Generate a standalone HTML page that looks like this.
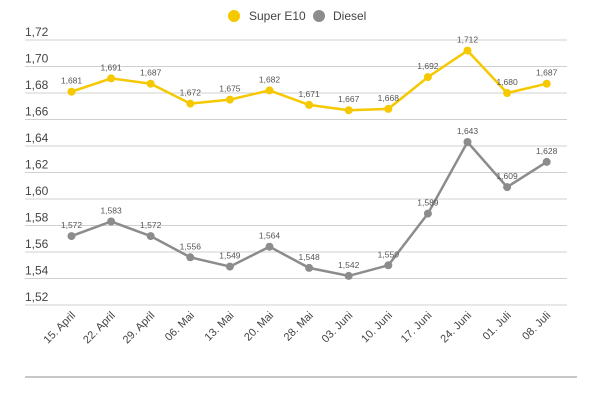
<!DOCTYPE html>
<html><head><meta charset="utf-8"><style>
html,body{margin:0;padding:0;background:#fff;}
svg{display:block;font-family:"Liberation Sans",sans-serif;}
</style></head><body>
<svg width="600" height="400" viewBox="0 0 600 400" xmlns="http://www.w3.org/2000/svg">
<g stroke="#d0d0d0" stroke-width="1">
<line x1="25" y1="40" x2="567" y2="40"/>
<line x1="25" y1="66.5" x2="567" y2="66.5"/>
<line x1="25" y1="93" x2="567" y2="93"/>
<line x1="25" y1="119.5" x2="567" y2="119.5"/>
<line x1="25" y1="146" x2="567" y2="146"/>
<line x1="25" y1="172.5" x2="567" y2="172.5"/>
<line x1="25" y1="199" x2="567" y2="199"/>
<line x1="25" y1="225.5" x2="567" y2="225.5"/>
<line x1="25" y1="252" x2="567" y2="252"/>
<line x1="25" y1="278.5" x2="567" y2="278.5"/>
<line x1="25" y1="305" x2="567" y2="305"/>
</g>
<line x1="25" y1="377" x2="577" y2="377" stroke="#c8c8c8" stroke-width="2"/>
<g font-size="12" fill="#444">
<text x="25" y="36">1,72</text>
<text x="25" y="62.5">1,70</text>
<text x="25" y="89">1,68</text>
<text x="25" y="115.5">1,66</text>
<text x="25" y="142">1,64</text>
<text x="25" y="168.5">1,62</text>
<text x="25" y="195">1,60</text>
<text x="25" y="221.5">1,58</text>
<text x="25" y="248">1,56</text>
<text x="25" y="274.5">1,54</text>
<text x="25" y="301">1,52</text>
</g>
<circle cx="234" cy="16" r="6" fill="#f5c800"/>
<text x="249" y="20" font-size="12" fill="#444">Super E10</text>
<circle cx="319" cy="16" r="6" fill="#8c8c8c"/>
<text x="333" y="20" font-size="12" fill="#444">Diesel</text>
<polyline fill="none" stroke="#f5c800" stroke-width="2.5" points="71.5,91.7 111.1,78.4 150.7,83.7 190.3,103.6 229.9,99.6 269.5,90.4 309.1,104.9 348.7,110.2 388.3,108.9 427.9,77.1 467.5,50.6 507.1,93 546.7,83.7"/>
<g fill="#f5c800">
<circle cx="71.5" cy="91.7" r="4"/><circle cx="111.1" cy="78.4" r="4"/><circle cx="150.7" cy="83.7" r="4"/><circle cx="190.3" cy="103.6" r="4"/><circle cx="229.9" cy="99.6" r="4"/><circle cx="269.5" cy="90.4" r="4"/><circle cx="309.1" cy="104.9" r="4"/><circle cx="348.7" cy="110.2" r="4"/><circle cx="388.3" cy="108.9" r="4"/><circle cx="427.9" cy="77.1" r="4"/><circle cx="467.5" cy="50.6" r="4"/><circle cx="507.1" cy="93" r="4"/><circle cx="546.7" cy="83.7" r="4"/>
</g>
<polyline fill="none" stroke="#8c8c8c" stroke-width="2.5" points="71.5,236.1 111.1,221.5 150.7,236.1 190.3,257.3 229.9,266.6 269.5,246.7 309.1,267.9 348.7,275.9 388.3,265.3 427.9,213.6 467.5,142 507.1,187.1 546.7,161.9"/>
<g fill="#8c8c8c">
<circle cx="71.5" cy="236.1" r="4"/><circle cx="111.1" cy="221.5" r="4"/><circle cx="150.7" cy="236.1" r="4"/><circle cx="190.3" cy="257.3" r="4"/><circle cx="229.9" cy="266.6" r="4"/><circle cx="269.5" cy="246.7" r="4"/><circle cx="309.1" cy="267.9" r="4"/><circle cx="348.7" cy="275.9" r="4"/><circle cx="388.3" cy="265.3" r="4"/><circle cx="427.9" cy="213.6" r="4"/><circle cx="467.5" cy="142" r="4"/><circle cx="507.1" cy="187.1" r="4"/><circle cx="546.7" cy="161.9" r="4"/>
</g>
<g font-size="8.5" fill="#555" text-anchor="middle">
<text x="71.5" y="83.7">1,681</text><text x="111.1" y="70.4">1,691</text><text x="150.7" y="75.7">1,687</text><text x="190.3" y="95.6">1,672</text><text x="229.9" y="91.6">1,675</text><text x="269.5" y="82.4">1,682</text><text x="309.1" y="96.9">1,671</text><text x="348.7" y="102.2">1,667</text><text x="388.3" y="100.9">1,668</text><text x="427.9" y="69.1">1,692</text><text x="467.5" y="42.6">1,712</text><text x="507.1" y="85">1,680</text><text x="546.7" y="75.7">1,687</text>
<text x="71.5" y="228.1">1,572</text><text x="111.1" y="213.5">1,583</text><text x="150.7" y="228.1">1,572</text><text x="190.3" y="249.3">1,556</text><text x="229.9" y="258.6">1,549</text><text x="269.5" y="238.7">1,564</text><text x="309.1" y="259.9">1,548</text><text x="348.7" y="267.9">1,542</text><text x="388.3" y="257.3">1,550</text><text x="427.9" y="205.6">1,589</text><text x="467.5" y="134">1,643</text><text x="507.1" y="179.1">1,609</text><text x="546.7" y="153.9">1,628</text>
</g>
<g font-size="11" fill="#444" text-anchor="end">
<text transform="translate(76,316) rotate(-45)">15. April</text>
<text transform="translate(115.6,316) rotate(-45)">22. April</text>
<text transform="translate(155.2,316) rotate(-45)">29. April</text>
<text transform="translate(194.8,316) rotate(-45)">06. Mai</text>
<text transform="translate(234.4,316) rotate(-45)">13. Mai</text>
<text transform="translate(274,316) rotate(-45)">20. Mai</text>
<text transform="translate(313.6,316) rotate(-45)">28. Mai</text>
<text transform="translate(353.2,316) rotate(-45)">03. Juni</text>
<text transform="translate(392.8,316) rotate(-45)">10. Juni</text>
<text transform="translate(432.4,316) rotate(-45)">17. Juni</text>
<text transform="translate(472,316) rotate(-45)">24. Juni</text>
<text transform="translate(511.6,316) rotate(-45)">01. Juli</text>
<text transform="translate(551.2,316) rotate(-45)">08. Juli</text>
</g>
</svg>
</body></html>
